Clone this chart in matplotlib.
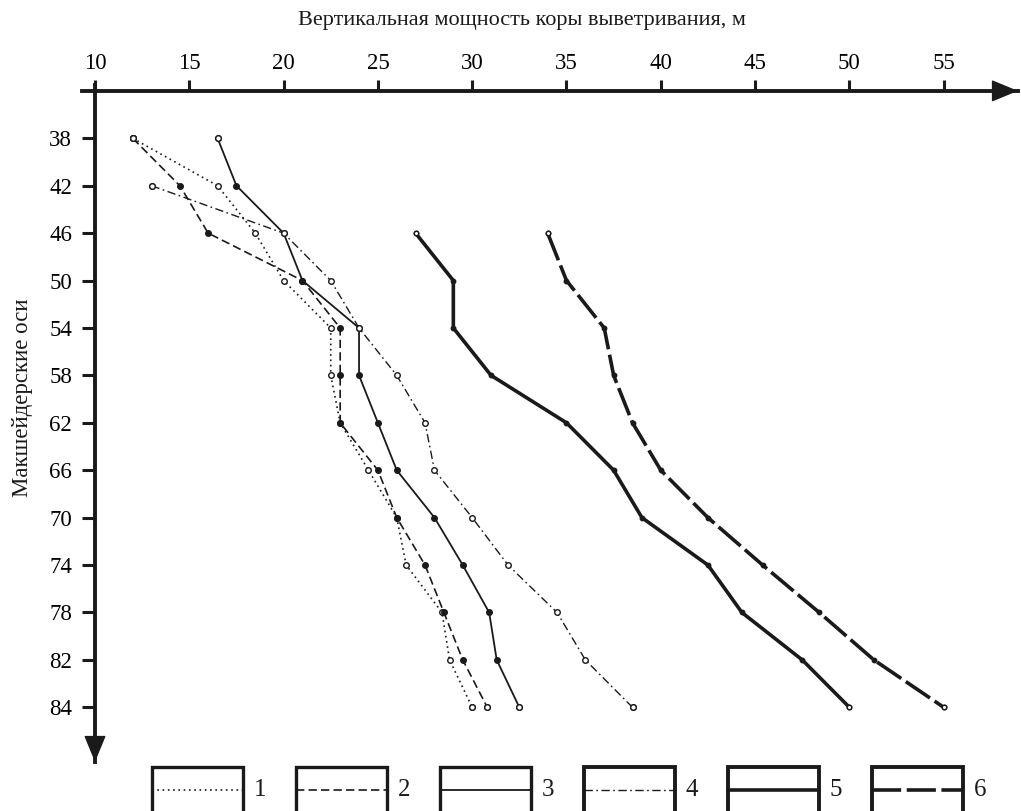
import numpy as np
import matplotlib
matplotlib.use("Agg")
import matplotlib.pyplot as plt
from matplotlib.patches import Rectangle
from matplotlib.lines import Line2D

plt.rcParams['font.family'] = ['Liberation Serif', 'DejaVu Serif']
plt.rcParams['lines.scale_dashes'] = False

nan = np.nan

# mine survey axes (rows of the chart, top to bottom)
rows = [38, 42, 46, 50, 54, 58, 62, 66, 70, 74, 78, 82, 84]

# vertical thickness of the weathering crust, m
s1 = [12.0, 16.5, 18.5, 20.0, 22.5, 22.5, 23.0, 24.5, 26.0, 26.5, 28.4, 28.8, 30.0]
s2 = [12.0, 14.5, 16.0, 21.0, 23.0, 23.0, 23.0, 25.0, 26.0, 27.5, 28.5, 29.5, 30.8]
s3 = [16.5, 17.5, 20.0, 21.0, 24.0, 24.0, 25.0, 26.0, 28.0, 29.5, 30.9, 31.3, 32.5]
s4 = [nan, 13.0, 20.0, 22.5, 24.0, 26.0, 27.5, 28.0, 30.0, 31.9, 34.5, 36.0, 38.5]
s5 = [nan, nan, 27.0, 29.0, 29.0, 31.0, 35.0, 37.5, 39.0, 42.5, 44.3, 47.5, 50.0]
s6 = [nan, nan, 34.0, 35.0, 37.0, 37.5, 38.5, 40.0, 42.5, 45.4, 48.4, 51.3, 55.0]

series = [s1, s2, s3, s4, s5, s6]
labels = ['1', '2', '3', '4', '5', '6']
xticks = [10, 15, 20, 25, 30, 35, 40, 45, 50, 55]

ink = '#1a1a1a'
# (linewidth, dashes, open markers, marker size)
styles = [
    (1.2, (1.2, 2.6), True, 4.0),
    (1.2, (6, 3), False, 4.0),
    (1.3, None, False, 4.0),
    (1.0, (6, 2.5, 1.2, 2.5), True, 4.0),
    (2.6, None, False, 3.2),
    (2.6, (21, 4), False, 3.2),
]

fig = plt.figure(figsize=(10.21, 8.11), dpi=100)
ax = fig.add_axes([82/1021, 1-762/811, (1018-82)/1021, (762-85)/811])

ypos = np.arange(len(rows))
for vals, (lw, dash, hollow, ms) in zip(series, styles):
    v = np.array(vals, dtype=float)
    ln, = ax.plot(v, ypos, color=ink, lw=lw, solid_capstyle='round')
    if dash is not None:
        ln.set_dashes(dash)
    ax.plot(v, ypos, ls='none', marker='o', ms=ms, mec=ink, mew=1.0,
            mfc='white' if hollow else ink, zorder=3)
    ok = np.where(~np.isnan(v))[0]
    ends = [ok[0], ok[-1]]
    ax.plot(v[ends], ypos[ends], ls='none', marker='o', ms=ms, mec=ink,
            mew=1.0, mfc='white', zorder=4)

ax.set_xlim(9.311, 58.94)
ax.set_ylim(13.153, -1.124)

for s in ['right', 'bottom']:
    ax.spines[s].set_visible(False)
ax.spines['top'].set_position(('data', -1))
ax.spines['left'].set_position(('data', 10))
for s in ['top', 'left']:
    ax.spines[s].set_linewidth(2.8)
    ax.spines[s].set_color(ink)

ax.xaxis.set_ticks_position('top')
ax.set_xticks(xticks)
ax.set_xticklabels([str(t) for t in xticks])
ax.set_yticks(ypos)
ax.set_yticklabels([str(r) for r in rows])
ax.tick_params(axis='x', direction='out', length=8, width=2.2, color=ink,
               labelsize=16.5, pad=4)
ax.tick_params(axis='y', direction='out', length=9.5, width=2.2, color=ink,
               labelsize=16.5, pad=7)
ax.patch.set_visible(False)

# arrow heads on the axes
arrow = dict(arrowstyle='-|>,head_length=1.7,head_width=0.7', lw=1,
             color=ink, mutation_scale=10, shrinkA=0, shrinkB=0)
ax.annotate('', xy=(1, -1), xycoords=ax.get_yaxis_transform(),
            xytext=(0.96, -1), textcoords=ax.get_yaxis_transform(),
            arrowprops=arrow, annotation_clip=False)
ax.annotate('', xy=(10, 0), xycoords=ax.get_xaxis_transform(),
            xytext=(10, 0.05), textcoords=ax.get_xaxis_transform(),
            arrowprops=arrow, annotation_clip=False)

fig.text(522/1021, 1-20/811, 'Вертикальная мощность коры выветривания, м',
         ha='center', va='center', fontsize=16, color=ink)
fig.text(23/1021, 1-398/811, 'Макшейдерские оси', rotation=90,
         ha='center', va='center', fontsize=16.5, color=ink)

# legend boxes along the bottom edge
W, H = 1021, 811
for i, (lab, (lw, dash, hollow, ms)) in enumerate(zip(labels, styles)):
    x0 = 152 + 144*i
    bw = 91
    blw = 2.4 if i < 3 else 2.8
    fig.add_artist(Rectangle((x0/W, 1-820/H), bw/W, (820-767)/H,
                             transform=fig.transFigure, fill=False,
                             ec=ink, lw=blw))
    l = Line2D([x0/W, (x0+bw)/W], [1-790/H, 1-790/H],
               transform=fig.transFigure, color=ink, lw=lw)
    if dash is not None:
        l.set_dashes(dash)
    fig.add_artist(l)
    fig.text((x0+bw+17)/W, 1-790/H, lab, ha='center', va='center',
             fontsize=18, color=ink)

fig.savefig('out.png', dpi=100)
